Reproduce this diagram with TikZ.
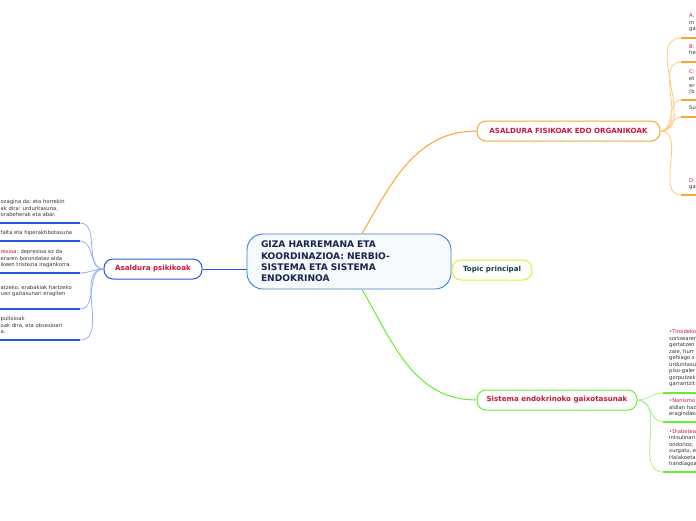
\documentclass[tikz,border=0pt]{standalone}
\usepackage{fontspec}
\setmainfont{DejaVu Sans}
\usetikzlibrary{positioning}

\definecolor{mainblue}{HTML}{3A7FCB}
\definecolor{mainfill}{HTML}{F7FAFD}
\definecolor{navy}{HTML}{14254F}
\definecolor{crimson}{HTML}{C8173D}
\definecolor{orangeb}{HTML}{F6A530}
\definecolor{orangel}{HTML}{FDCB78}
\definecolor{blueb}{HTML}{2457E3}
\definecolor{bluel}{HTML}{93AEF2}
\definecolor{greenb}{HTML}{66EE33}
\definecolor{greenl}{HTML}{A6F08A}
\definecolor{limeb}{HTML}{D8F02A}
\definecolor{topicgreen}{HTML}{123F3C}
\definecolor{leafgray}{HTML}{333333}

\tikzset{
    branch/.style={rectangle, rounded corners=9pt, draw, line width=1pt, fill=white, minimum height=20pt, inner sep=2pt, text=crimson, font=\fontsize{7.1}{8}\selectfont\bfseries},
    leaf/.style={inner sep=0pt, anchor=south west, align=left, text=leafgray, text depth=1pt, font=\fontsize{5.25}{6.8}\selectfont},
    uline/.style={line width=1.8pt},
    twig/.style={line width=0.8pt},
}

\begin{document}
\begin{tikzpicture}[x=1pt,y=1pt]
    \useasboundingbox (0,0) rectangle (696,-520);
    \clip (0,0) rectangle (696,-520);

    % central topic
    \node(main) [rectangle, draw=mainblue, fill=mainfill, line width=0.9pt, rounded corners=16pt, minimum width=204pt, minimum height=55pt, text width=176pt, inner xsep=14pt, align=left, text=navy, font=\fontsize{9.1}{11.3}\selectfont\bfseries] at (349,-261.5) {GIZA HARREMANA ETA\\KOORDINAZIOA: NERBIO-\\SISTEMA ETA SISTEMA\\ENDOKRINOA};

    % branches
    \node(fisiko) [branch, draw=orangeb, minimum width=183pt] at (568.5,-131) {ASALDURA FISIKOAK EDO ORGANIKOAK};
    \node(topic) [branch, draw=limeb, text=topicgreen, minimum width=80pt] at (492,-270) {Topic principal};
    \node(endokrino) [branch, draw=greenb, minimum width=160pt] at (557,-400) {Sistema endokrinoko gaixotasunak};
    \node(psikiko) [branch, draw=blueb, minimum width=98pt] at (153,-269) {Asaldura psikikoak};

    \draw[orangeb, line width=1pt] (main.65) to[out=60,in=180] (fisiko);
    \draw[greenb, line width=1pt] (main.-65) to[out=-60,in=180] (endokrino);
    \draw[limeb, line width=1pt] (main) -- (topic);
    \draw[blueb, line width=1pt] (main.west |- psikiko) -- (psikiko);

    % fisikoak
    \coordinate (fa) at (681,-38);
    \coordinate (fb) at (681,-62);
    \coordinate (fc) at (681,-100);
    \coordinate (fsu) at (681,-117);
    \coordinate (fd) at (681,-195);
    \foreach \c in {fa,fb,fc,fsu,fd} {
        \draw[twig, orangel] (fisiko) to[out=0,in=180] (\c);
        \draw[uline, orangeb] (\c) -- ++(20,0);
    }
    \node(ta) [leaf] at (689,-32) {\textcolor{crimson}{A:}\\m\\ga};
    \node(tb) [leaf] at (689,-56) {\textcolor{crimson}{B:}\\he};
    \node(tc) [leaf] at (689,-95) {\textcolor{crimson}{C:}\\et\\er\\(b};
    \node(tsu) [leaf] at (689,-111) {Su};
    \node(td) [leaf] at (689,-190) {\textcolor{crimson}{D:}\\ga};

    % endokrino
    \coordinate (g1) at (663,-393);
    \coordinate (g2) at (663,-422);
    \coordinate (g3) at (663,-472);
    \foreach \c in {g1,g2,g3} {
        \draw[twig, greenl] (endokrino) to[out=0,in=180] (\c);
        \draw[uline, greenb] (\c) -- ++(40,0);
    }
    \node(tiro) [leaf, font=\fontsize{5.25}{6.5}\selectfont] at (669,-387) {\textcolor{crimson}{•Tiroideko}\\sortzearen\\gertatzen\\zaie, hurr\\gehiago s\\urduritasu\\pisu-galer\\gorputzek\\garrantzit};
    \node(nani) [leaf, font=\fontsize{5.25}{6.5}\selectfont] at (669,-417) {\textcolor{crimson}{•Nanismo}\\aldian haz\\eragindako};
    \node(diab) [leaf, font=\fontsize{5.25}{6.5}\selectfont] at (669,-467) {\textcolor{crimson}{•Diabetea}\\intsulinari\\ondorioz,\\xurgatu, e\\Halakoeta\\handiagoa};

    % psikikoak
    \coordinate (p1) at (80,-223);
    \coordinate (p2) at (80,-241);
    \coordinate (p3) at (80,-273);
    \coordinate (p4) at (80,-309);
    \coordinate (p5) at (80,-340);
    \foreach \c in {p1,p2,p3,p4,p5} {
        \draw[twig, bluel] (psikiko) to[out=180,in=0] (\c);
        \draw[uline, blueb] (\c) -- ++(-90,0);
    }
    \node(t1) [leaf] at (0.5,-218) {ozagina da; eta horrekin\\ak dira: urduritasuna,\\orabeherak eta abar.};
    \node(t2) [leaf] at (0.5,-236) {falta eta hiperaktibotasuna};
    \node(t3) [leaf] at (0.5,-268) {\textcolor{crimson}{resioa:} depresioa ez da\\eraren borondatez alda\\ikeen tristezia iragankorra.};
    \node(t4) [leaf] at (0.5,-297) {atzeko, erabakiak hartzeko\\uen gaitasunari eragiten};
    \node(t5) [leaf] at (0.5,-335) {pultsioak\\oak dira, eta obsesioari\\a.};
\end{tikzpicture}
\end{document}
